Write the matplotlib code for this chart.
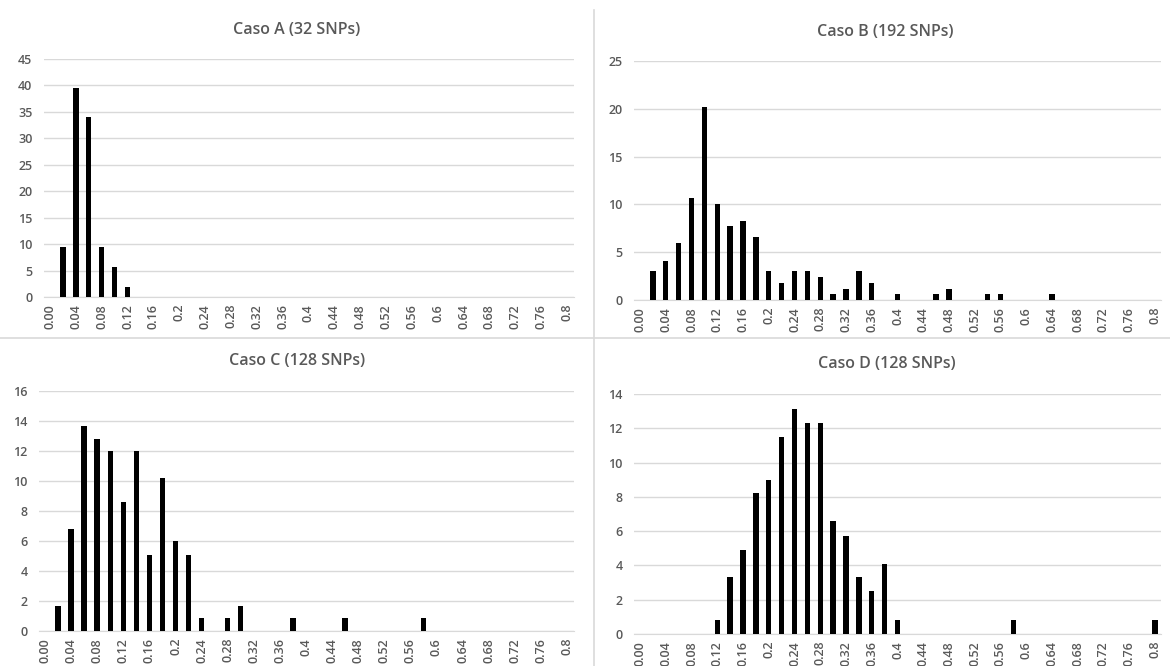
import numpy as np
import matplotlib
matplotlib.use("Agg")
import matplotlib.pyplot as plt

# categorías del eje x (0.00 a 0.80 cada 0.02)
categorias = [round(0.02 * i, 2) for i in range(41)]
etiquetas = ["0.00", "0.04", "0.08", "0.12", "0.16", "0.2", "0.24", "0.28", "0.32", "0.36",
             "0.4", "0.44", "0.48", "0.52", "0.56", "0.6", "0.64", "0.68", "0.72", "0.76", "0.8"]

# valores (solo los no nulos)
caso_a = {0.02: 9.4, 0.04: 39.5, 0.06: 34.0, 0.08: 9.4, 0.10: 5.6, 0.12: 1.8}
caso_b = {0.02: 3.0, 0.04: 4.1, 0.06: 6.0, 0.08: 10.7, 0.10: 20.2, 0.12: 10.0, 0.14: 7.7,
          0.16: 8.3, 0.18: 6.6, 0.20: 3.0, 0.22: 1.8, 0.24: 3.0, 0.26: 3.0, 0.28: 2.4,
          0.30: 0.6, 0.32: 1.2, 0.34: 3.0, 0.36: 1.8, 0.40: 0.6, 0.46: 0.6, 0.48: 1.2,
          0.54: 0.6, 0.56: 0.6, 0.64: 0.6}
caso_c = {0.02: 1.7, 0.04: 6.8, 0.06: 13.7, 0.08: 12.8, 0.10: 12.0, 0.12: 8.6, 0.14: 12.0,
          0.16: 5.1, 0.18: 10.2, 0.20: 6.0, 0.22: 5.1, 0.24: 0.85, 0.28: 0.85, 0.30: 1.7,
          0.38: 0.85, 0.46: 0.85, 0.58: 0.85}
caso_d = {0.12: 0.8, 0.14: 3.3, 0.16: 4.9, 0.18: 8.2, 0.20: 9.0, 0.22: 11.5, 0.24: 13.1,
          0.26: 12.3, 0.28: 12.3, 0.30: 6.6, 0.32: 5.7, 0.34: 3.3, 0.36: 2.5, 0.38: 4.1,
          0.40: 0.8, 0.58: 0.8, 0.80: 0.8}

W, H = 1170, 666
GRIS = "#595959"

paneles = [
    # datos, titulo, ymax, paso, (izq, der, y0, ytop) en pixeles, posicion titulo
    (caso_a, "Caso A (32 SNPs)", 45, 5, (43.5, 573.5, 297, 59), (297, 30)),
    (caso_b, "Caso B (192 SNPs)", 25, 5, (633.6, 1161.4, 300, 61), (885, 32)),
    (caso_c, "Caso C (128 SNPs)", 16, 2, (38.5, 573.5, 631, 391), (297, 361)),
    (caso_d, "Caso D (128 SNPs)", 14, 2, (633.6, 1161.4, 634, 394), (887, 364)),
]

plt.rcParams['font.family'] = ['Open Sans', 'DejaVu Sans']

fig = plt.figure(figsize=(W / 100, H / 100), dpi=100)

for datos, titulo, ymax, paso, (x0, x1, y0, y1), (tx, ty) in paneles:
    ax = fig.add_axes([x0 / W, 1 - y0 / H, (x1 - x0) / W, (y0 - y1) / H])
    valores = [datos.get(c, 0) for c in categorias]
    ax.bar(np.arange(len(categorias)), valores, width=0.42, color="black", zorder=3)
    ax.set_xlim(-0.5, len(categorias) - 0.5)
    ax.set_ylim(0, ymax)
    ax.set_yticks(np.arange(0, ymax + 0.1, paso))
    ax.set_xticks(np.arange(0, len(categorias), 2))
    ax.set_xticklabels(etiquetas, rotation=90)
    ax.tick_params(axis="both", length=0, colors=GRIS, labelsize=9)
    ax.tick_params(axis="y", pad=8)
    ax.tick_params(axis="x", pad=5)
    for lbl in ax.get_xticklabels() + ax.get_yticklabels():
        lbl.set_fontweight("semibold")
    ax.grid(axis="y", color="#d9d9d9", linewidth=1, zorder=0)
    for lado in ["top", "right", "left"]:
        ax.spines[lado].set_visible(False)
    ax.spines["bottom"].set_color("#d9d9d9")
    fig.text(tx / W, 1 - ty / H, titulo, ha="center", va="center",
             fontsize=11.5, fontweight="semibold", color=GRIS)

# líneas de separación entre gráficos
fig.add_artist(plt.Line2D([594 / W, 594 / W], [0, 1 - 10 / H], color="#d9d9d9", linewidth=1.2))
fig.add_artist(plt.Line2D([0, 1], [1 - 338 / H, 1 - 338 / H], color="#d9d9d9", linewidth=1.2))

fig.savefig("out.png", dpi=100)
